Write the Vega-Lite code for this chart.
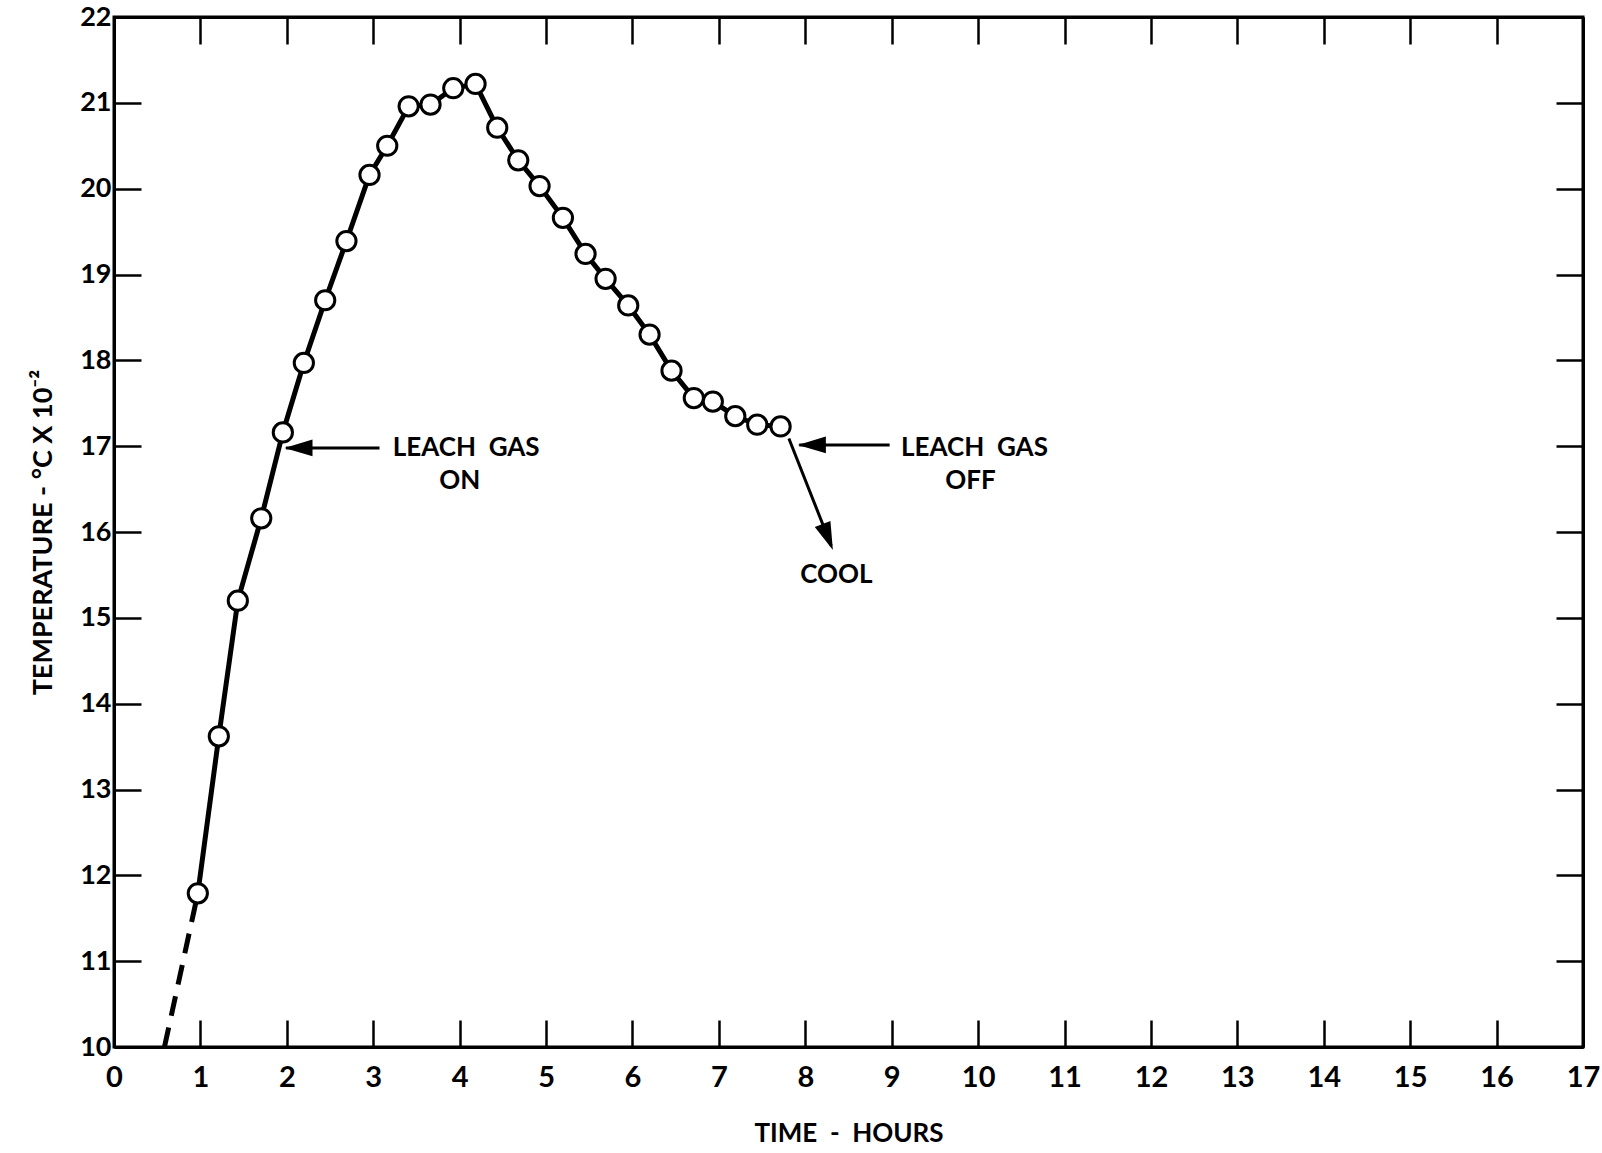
{
  "$schema": "https://vega.github.io/schema/vega-lite/v6.json",
  "width": 1469,
  "height": 1030,
  "autosize": {"type": "none"},
  "padding": {"left": 114, "top": 17, "right": 19, "bottom": 106},
  "background": "white",
  "config": {
    "view": {"stroke": "black", "strokeWidth": 3},
    "font": "Lato",
    "axis": {
      "domainColor": "black", "domainWidth": 3, "tickColor": "black", "tickWidth": 2.5,
      "tickSize": -27, "grid": false, "labelColor": "black", "titleColor": "black",
      "labelFont": "Lato", "titleFont": "Lato", "labelFontWeight": "bold", "titleFontWeight": "bold"
    }
  },
  "datasets": {
    "curve": [
      {"t": 0.970, "temp": 11.79}, {"t": 1.213, "temp": 13.62}, {"t": 1.433, "temp": 15.20},
      {"t": 1.704, "temp": 16.16}, {"t": 1.954, "temp": 17.16}, {"t": 2.197, "temp": 17.97},
      {"t": 2.444, "temp": 18.70}, {"t": 2.690, "temp": 19.39}, {"t": 2.957, "temp": 20.16},
      {"t": 3.162, "temp": 20.50}, {"t": 3.410, "temp": 20.96}, {"t": 3.663, "temp": 20.98},
      {"t": 3.926, "temp": 21.17}, {"t": 4.184, "temp": 21.22}, {"t": 4.435, "temp": 20.71},
      {"t": 4.678, "temp": 20.33}, {"t": 4.925, "temp": 20.03}, {"t": 5.195, "temp": 19.66},
      {"t": 5.457, "temp": 19.24}, {"t": 5.689, "temp": 18.95}, {"t": 5.951, "temp": 18.64},
      {"t": 6.198, "temp": 18.30}, {"t": 6.452, "temp": 17.88}, {"t": 6.710, "temp": 17.56},
      {"t": 6.930, "temp": 17.52}, {"t": 7.190, "temp": 17.35}, {"t": 7.444, "temp": 17.25},
      {"t": 7.714, "temp": 17.23}
    ],
    "lead": [{"t": 0.584, "temp": 10.0}, {"t": 0.970, "temp": 11.79}],
    "arrows": [
      {"t": 1.99, "temp": 16.98, "t2": 3.073, "temp2": 16.98},
      {"t": 7.93, "temp": 17.015, "t2": 8.976, "temp2": 17.015},
      {"t": 7.81, "temp": 17.09, "t2": 8.30, "temp2": 15.84}
    ],
    "heads_left": [{"t": 1.973, "temp": 16.98}, {"t": 7.914, "temp": 17.015}],
    "head_cool": [{"t": 8.319, "temp": 15.79}],
    "labels": [
      {"t": 4.076, "temp": 16.98, "text": "LEACH\u00a0\u00a0GAS"},
      {"t": 4.0, "temp": 16.60, "text": "ON"},
      {"t": 9.958, "temp": 16.98, "text": "LEACH\u00a0\u00a0GAS"},
      {"t": 9.911, "temp": 16.60, "text": "OFF"},
      {"t": 8.359, "temp": 15.50, "text": "COOL"}
    ]
  },
  "layer": [
    {
      "data": {"name": "lead"},
      "mark": {"type": "line", "color": "black", "strokeWidth": 5, "strokeDash": [20, 12]},
      "encoding": {
        "x": {"field": "t", "type": "quantitative", "scale": {"domain": [0, 17], "nice": false},
          "axis": {"orient": "bottom", "values": [0,1,2,3,4,5,6,7,8,9,10,11,12,13,14,15,16,17],
            "labelFontSize": 29, "labelPadding": 43, "labelFlush": false,
            "title": "TIME\u00a0\u00a0-\u00a0\u00a0HOURS", "titleFontSize": 26, "titlePadding": 28}},
        "y": {"field": "temp", "type": "quantitative", "scale": {"domain": [10, 22], "nice": false, "zero": false},
          "axis": {"orient": "left", "values": [10,11,12,13,14,15,16,17,18,19,20,21,22],
            "labelFontSize": 27, "labelPadding": 30, "labelFlush": false,
            "title": "TEMPERATURE - °C X 10⁻²", "titleFontSize": 27, "titlePadding": 22}}
      }
    },
    {
      "data": {"name": "curve"},
      "mark": {"type": "line", "color": "black", "strokeWidth": 5},
      "encoding": {
        "x": {"field": "t", "type": "quantitative",
          "axis": {"orient": "top", "values": [0,1,2,3,4,5,6,7,8,9,10,11,12,13,14,15,16,17], "labels": false, "title": null}},
        "y": {"field": "temp", "type": "quantitative",
          "axis": {"orient": "right", "values": [10,11,12,13,14,15,16,17,18,19,20,21,22], "labels": false, "title": null}}
      }
    },
    {
      "data": {"name": "curve"},
      "mark": {"type": "point", "shape": "circle", "filled": true, "fill": "white", "stroke": "black", "strokeWidth": 3, "size": 370, "opacity": 1},
      "encoding": {
        "x": {"field": "t", "type": "quantitative", "axis": null},
        "y": {"field": "temp", "type": "quantitative", "axis": null}
      }
    },
    {
      "data": {"name": "arrows"},
      "mark": {"type": "rule", "color": "black", "strokeWidth": 3},
      "encoding": {
        "x": {"field": "t", "type": "quantitative", "axis": null},
        "y": {"field": "temp", "type": "quantitative", "axis": null},
        "x2": {"field": "t2"},
        "y2": {"field": "temp2"}
      }
    },
    {
      "data": {"name": "heads_left"},
      "mark": {"type": "point", "shape": "M0,0 L2,-0.6 L2,0.6 Z", "filled": true, "color": "black", "size": 784, "opacity": 1},
      "encoding": {
        "x": {"field": "t", "type": "quantitative", "axis": null},
        "y": {"field": "temp", "type": "quantitative", "axis": null}
      }
    },
    {
      "data": {"name": "head_cool"},
      "mark": {"type": "point", "shape": "M0,0 L-0.174,-2.081 L-1.29,-1.641 Z", "filled": true, "color": "black", "size": 784, "opacity": 1},
      "encoding": {
        "x": {"field": "t", "type": "quantitative", "axis": null},
        "y": {"field": "temp", "type": "quantitative", "axis": null}
      }
    },
    {
      "data": {"name": "labels"},
      "mark": {"type": "text", "font": "Lato", "fontSize": 26, "fontWeight": "bold", "color": "black", "baseline": "middle", "align": "center"},
      "encoding": {
        "x": {"field": "t", "type": "quantitative", "axis": null},
        "y": {"field": "temp", "type": "quantitative", "axis": null},
        "text": {"field": "text"}
      }
    }
  ],
  "resolve": {"axis": {"x": "independent", "y": "independent"}}
}
